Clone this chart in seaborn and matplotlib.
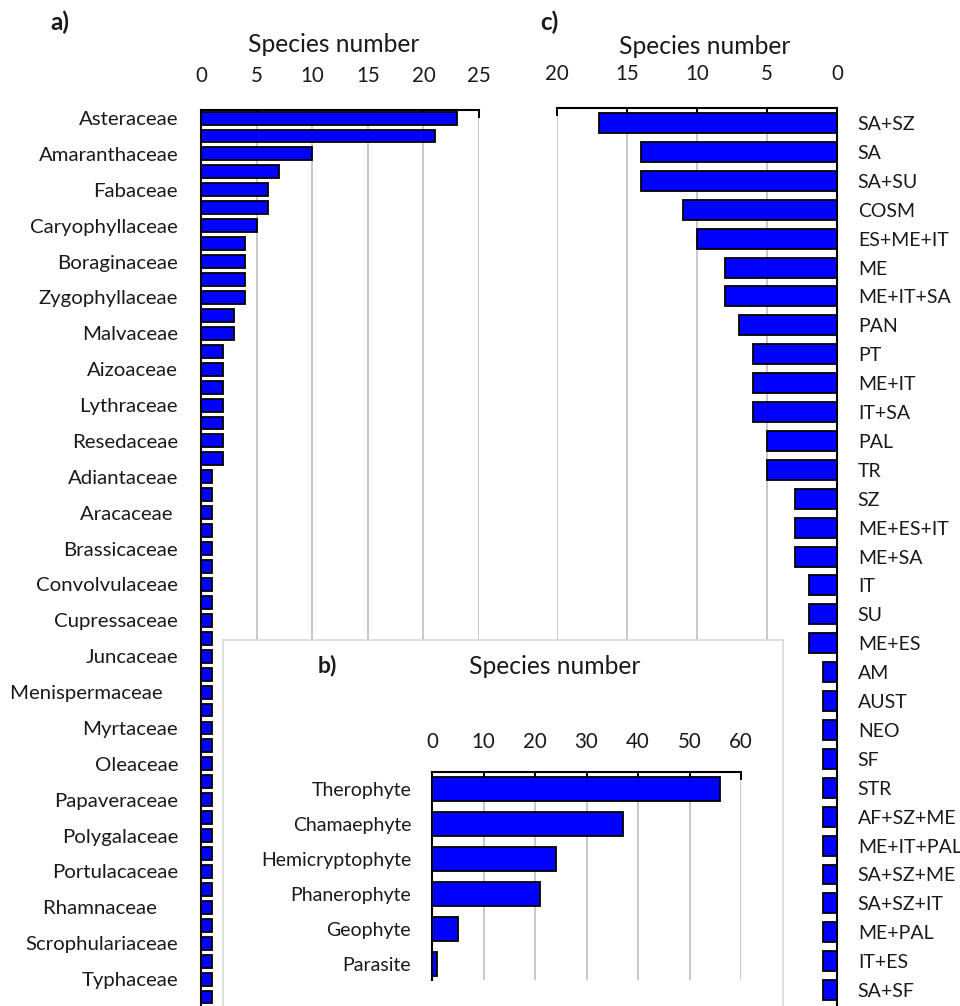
import numpy as np
import matplotlib
matplotlib.use("Agg")
import matplotlib.pyplot as plt
import seaborn as sns

sns.set_style("white")
plt.rcParams["font.family"] = ["Lato", "DejaVu Sans"]

# a) species per family (50 families, every second one labelled)
family_labels = [
    "Asteraceae", "Amaranthaceae", "Fabaceae", "Caryophyllaceae", "Boraginaceae",
    "Zygophyllaceae", "Malvaceae", "Aizoaceae", "Lythraceae", "Resedaceae",
    "Adiantaceae", "Aracaceae ", "Brassicaceae", "Convolvulaceae", "Cupressaceae",
    "Juncaceae", "Menispermaceae   ", "Myrtaceae", "Oleaceae", "Papaveraceae",
    "Polygalaceae", "Portulacaceae", "Rhamnaceae    ", "Scrophulariaceae", "Typhaceae",
]
family_counts = [23, 21, 10, 7, 6, 6, 5, 4, 4, 4, 4, 3, 3,
                 2, 2, 2, 2, 2, 2, 2,
                 1, 1, 1, 1, 1, 1, 1, 1, 1, 1, 1, 1, 1, 1, 1, 1, 1, 1, 1, 1,
                 1, 1, 1, 1, 1, 1, 1, 1, 1, 1]
family_ticks = [0, 5, 10, 15, 20, 25]

# b) life forms
lifeform_labels = ["Therophyte", "Chamaephyte", "Hemicryptophyte",
                   "Phanerophyte", "Geophyte", "Parasite"]
lifeform_counts = [56, 37, 24, 21, 5, 1]
lifeform_ticks = [0, 10, 20, 30, 40, 50, 60]

# c) chorotypes
choro_labels = ["SA+SZ", "SA", "SA+SU", "COSM", "ES+ME+IT", "ME", "ME+IT+SA", "PAN",
                "PT", "ME+IT", "IT+SA", "PAL", "TR", "SZ", "ME+ES+IT", "ME+SA", "IT",
                "SU", "ME+ES", "AM", "AUST", "NEO", "SF", "STR", "AF+SZ+ME",
                "ME+IT+PAL", "SA+SZ+ME", "SA+SZ+IT", "ME+PAL", "IT+ES", "SA+SF"]
choro_counts = [17, 14, 14, 11, 10, 8, 8, 7, 6, 6, 6, 5, 5, 3, 3, 3, 2, 2, 2,
                1, 1, 1, 1, 1, 1, 1, 1, 1, 1, 1, 1]
choro_ticks = [20, 15, 10, 5, 0]

W, H = 960, 1006
TXT = "#1a1a1a"
BAR = "#0000FF"
GRID = "#c8c8c8"
TITLE_SIZE = 17.7

fig = plt.figure(figsize=(W / 100, H / 100), dpi=100)


def box(x0, y0, x1, y1):
    return [x0 / W, 1 - y1 / H, (x1 - x0) / W, (y1 - y0) / H]


def style_axis(ax, side, pad_x, pad_y, ticks, ylabelsize=14):
    ax.set_xticks(ticks)
    ax.set_xticklabels([str(t) for t in ticks])
    ax.xaxis.set_ticks_position("top")
    ax.xaxis.set_label_position("top")
    ax.tick_params(axis="x", direction="in", length=6, width=1.4, color="black",
                   top=True, bottom=False, labeltop=True, labelbottom=False,
                   pad=pad_x, labelsize=14.8, labelcolor=TXT)
    ax.tick_params(axis="y", length=0, pad=pad_y, labelsize=ylabelsize, labelcolor=TXT)
    ax.grid(axis="x", color=GRID, lw=1.4)
    ax.grid(axis="y", visible=False)
    ax.set_axisbelow(True)
    for s in ax.spines.values():
        s.set_visible(False)
    ax.spines["top"].set_visible(True)
    ax.spines[side].set_visible(True)
    for s in ("top", side):
        ax.spines[s].set_color("black")
        ax.spines[s].set_linewidth(1.5)
    ax.set_ylabel("")
    ax.set_xlabel("")


# ---- panel a ----
ax_a = fig.add_axes(box(201, 110, 479, 1006))
pos_a = np.arange(len(family_counts))
sns.barplot(x=family_counts, y=pos_a, orient="h", color=BAR, edgecolor="black",
            linewidth=1.3, width=0.72, saturation=1, ax=ax_a)
ax_a.set_xlim(0, 25)
ax_a.set_ylim(49.5, -0.45)
style_axis(ax_a, "left", 17, 16.5, family_ticks, ylabelsize=14.7)
ax_a.set_yticks(pos_a[::2])
ax_a.set_yticklabels(family_labels)
fig.text(334 / W, 1 - 45 / H, "Species number", ha="center", va="center",
         fontsize=TITLE_SIZE, color=TXT)
fig.text(50 / W, 1 - 22 / H, "a)", ha="left", va="center", fontsize=17.5,
         fontweight="bold", color=TXT)

# ---- panel c ----
ax_c = fig.add_axes(box(557, 108, 837, 1006))
sns.barplot(x=choro_counts, y=choro_labels, orient="h", color=BAR, edgecolor="black",
            linewidth=1.3, width=0.69, saturation=1, ax=ax_c)
ax_c.set_xlim(20, 0)
ax_c.set_ylim(30.55, -0.52)
ax_c.yaxis.tick_right()
style_axis(ax_c, "right", 17, 15, choro_ticks)
fig.text(705 / W, 1 - 47 / H, "Species number", ha="center", va="center",
         fontsize=TITLE_SIZE, color=TXT)
fig.text(540 / W, 1 - 22 / H, "c)", ha="left", va="center", fontsize=17.5,
         fontweight="bold", color=TXT)

# ---- panel b (inset frame) ----
ax_box = fig.add_axes(box(223, 640, 783, 1030))
ax_box.set_facecolor("white")
ax_box.set_xticks([])
ax_box.set_yticks([])
for s in ax_box.spines.values():
    s.set_color("#d9d9d9")
    s.set_linewidth(1.2)
    s.set_visible(True)

ax_b = fig.add_axes(box(432, 772, 741, 980))
ax_b.set_facecolor("none")
sns.barplot(x=lifeform_counts, y=lifeform_labels, orient="h", color=BAR,
            edgecolor="black", linewidth=1.3, width=0.69, saturation=1, ax=ax_b)
ax_b.set_xlim(0, 60)
ax_b.set_ylim(5.46, -0.49)
style_axis(ax_b, "left", 14.5, 15, lifeform_ticks)
fig.text(555 / W, 1 - 667 / H, "Species number", ha="center", va="center",
         fontsize=TITLE_SIZE, color=TXT)
fig.text(318 / W, 1 - 665 / H, "b)", ha="left", va="center", fontsize=16.5,
         fontweight="bold", color=TXT)

fig.savefig("out.png", dpi=100, facecolor="white")
